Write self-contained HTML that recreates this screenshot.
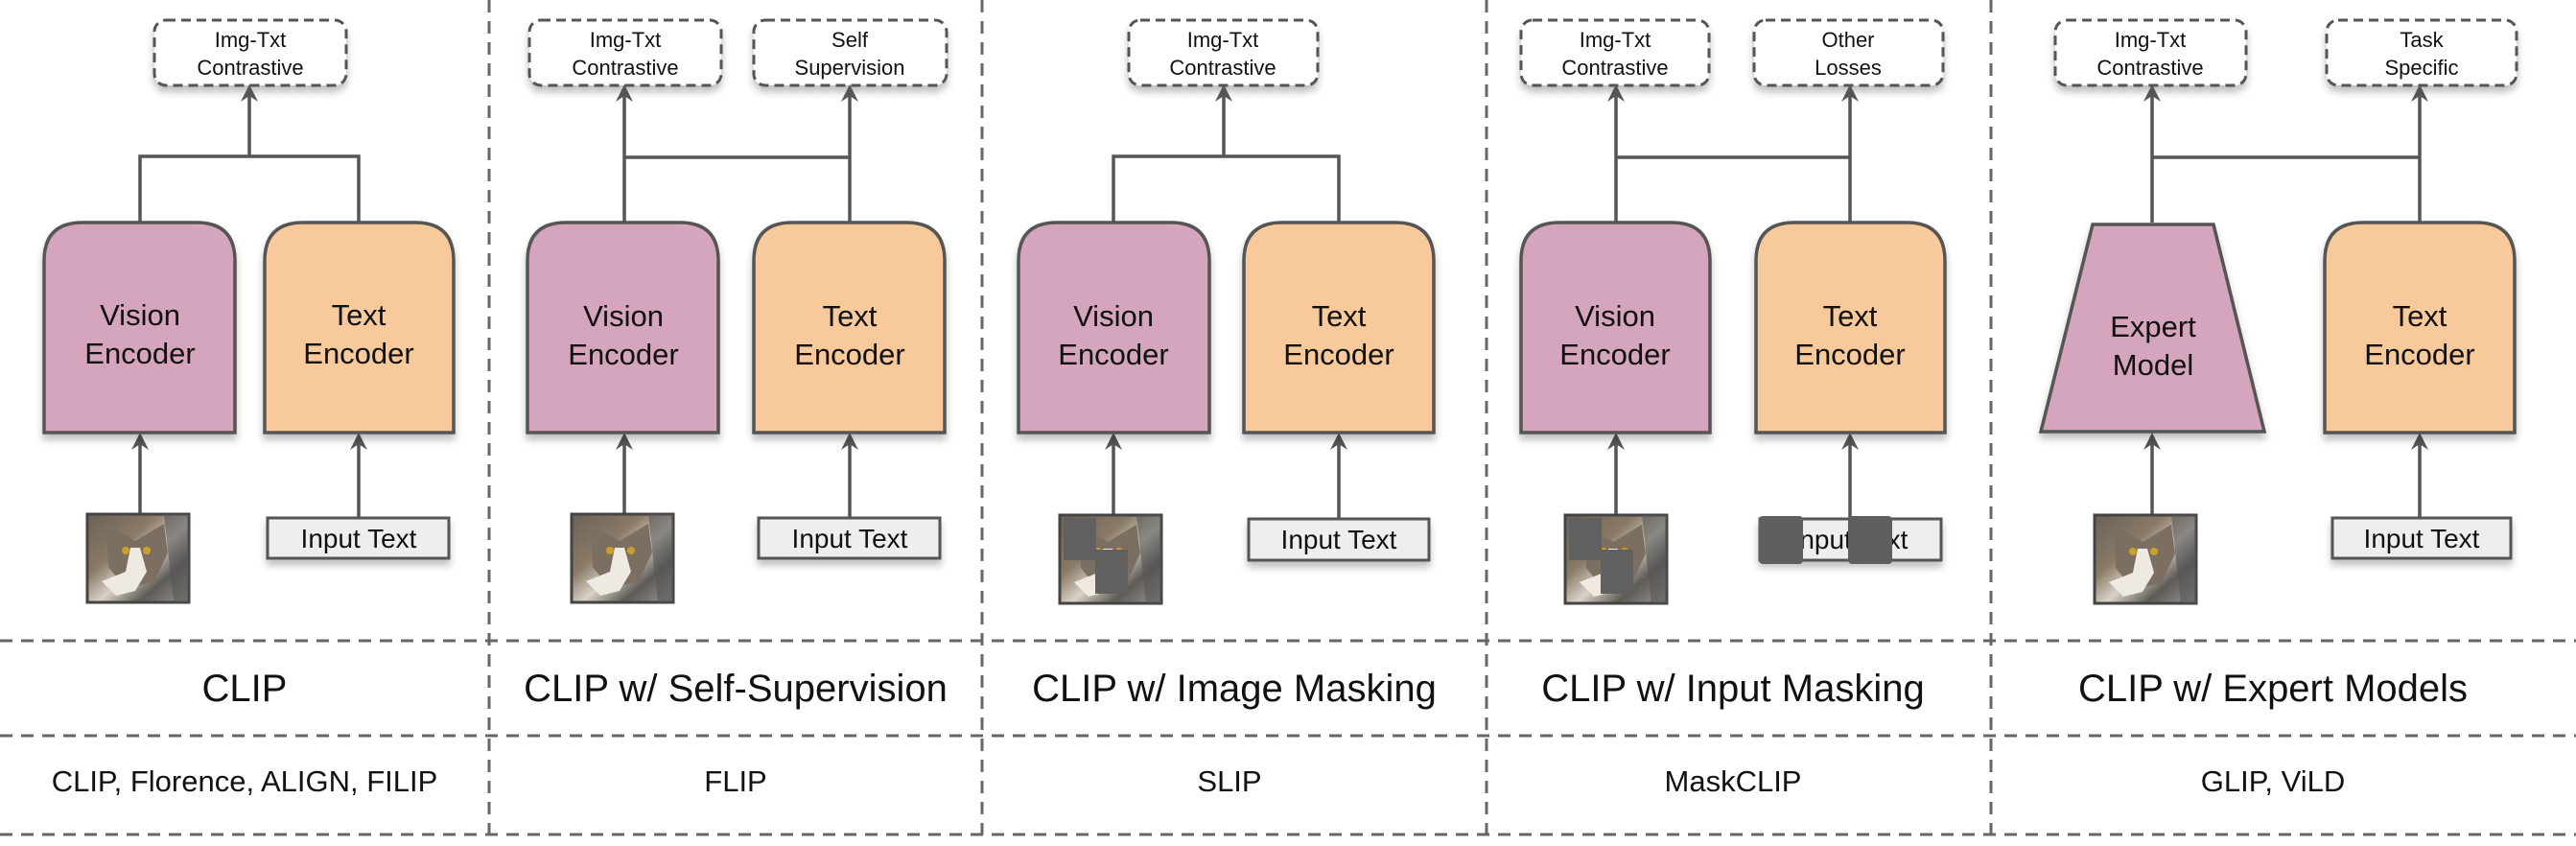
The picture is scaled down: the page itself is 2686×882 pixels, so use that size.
<!DOCTYPE html>
<html><head><meta charset="utf-8"><style>
html,body{margin:0;padding:0;background:#fff;}
svg{display:block;font-family:"Liberation Sans",Arial,sans-serif;}
</style></head><body>
<svg width="2686" height="882" viewBox="0 0 2686 882" xmlns="http://www.w3.org/2000/svg">
<defs>
<filter id="sh" x="-10%" y="-10%" width="130%" height="140%"><feDropShadow dx="0" dy="6" stdDeviation="4" flood-color="#000" flood-opacity="0.25"/></filter>
<linearGradient id="catg" x1="0" y1="0" x2="1" y2="1">
<stop offset="0" stop-color="#6b6158"/><stop offset="0.35" stop-color="#8a7a66"/><stop offset="0.55" stop-color="#d8d2c8"/><stop offset="0.75" stop-color="#5e5a56"/><stop offset="1" stop-color="#9a9a98"/></linearGradient>
<g id="cat">
<rect x="0" y="0" width="106" height="92" fill="url(#catg)" stroke="#444" stroke-width="3"/>
<path d="M20 10 L50 28 L80 10 L84 40 L70 70 L40 78 L22 55 Z" fill="#7c6f62"/>
<path d="M45 35 L55 35 L62 60 L50 80 L30 85 L15 70 L40 60 Z" fill="#eeeae2"/>
<circle cx="40" cy="38" r="4" fill="#c9a02a"/><circle cx="62" cy="38" r="4" fill="#c9a02a"/>
<path d="M80 0 L106 0 L106 92 L90 92 Z" fill="#555" opacity="0.6"/>
</g>
<g id="arrowhead"><path d="M-9 16 L0 -2 L9 16 L0 10 Z" fill="#555"/></g>
</defs>

<g stroke="#666" stroke-width="3" stroke-dasharray="13 9" fill="none">
<line x1="510" y1="0" x2="510" y2="870"/>
<line x1="1024" y1="0" x2="1024" y2="870"/>
<line x1="1550" y1="0" x2="1550" y2="870"/>
<line x1="2076" y1="0" x2="2076" y2="870"/>
<line x1="0" y1="668" x2="2686" y2="668"/>
<line x1="0" y1="767" x2="2686" y2="767"/>
<line x1="0" y1="870" x2="2686" y2="870"/>
</g>

<g fill="#fff" stroke="#555" stroke-width="3" stroke-dasharray="10 6" filter="url(#sh)">
<rect x="161" y="21" width="200" height="68" rx="12"/>
<rect x="552" y="21" width="200" height="68" rx="12"/>
<rect x="786" y="21" width="201" height="68" rx="12"/>
<rect x="1177" y="21" width="197" height="68" rx="12"/>
<rect x="1586" y="21" width="196" height="68" rx="12"/>
<rect x="1829" y="21" width="197" height="68" rx="12"/>
<rect x="2143" y="21" width="199" height="68" rx="12"/>
<rect x="2426" y="21" width="198" height="68" rx="12"/>
</g>
<g font-size="22" text-anchor="middle" fill="#111">
<text x="261" y="49">Img-Txt</text><text x="261" y="78">Contrastive</text>
<text x="652" y="49">Img-Txt</text><text x="652" y="78">Contrastive</text>
<text x="886" y="49">Self</text><text x="886" y="78">Supervision</text>
<text x="1275" y="49">Img-Txt</text><text x="1275" y="78">Contrastive</text>
<text x="1684" y="49">Img-Txt</text><text x="1684" y="78">Contrastive</text>
<text x="1927" y="49">Other</text><text x="1927" y="78">Losses</text>
<text x="2242" y="49">Img-Txt</text><text x="2242" y="78">Contrastive</text>
<text x="2525" y="49">Task</text><text x="2525" y="78">Specific</text>
</g>

<g stroke="#555" stroke-width="3.5" fill="none">
<polyline points="146,232 146,163 374,163 374,232"/><line x1="260" y1="163" x2="260" y2="96"/>
<line x1="651" y1="232" x2="651" y2="96"/><line x1="886" y1="232" x2="886" y2="96"/><line x1="651" y1="164" x2="886" y2="164"/>
<polyline points="1161,232 1161,163 1396,163 1396,232"/><line x1="1276" y1="163" x2="1276" y2="96"/>
<line x1="1685" y1="232" x2="1685" y2="96"/><line x1="1929" y1="232" x2="1929" y2="96"/><line x1="1685" y1="164" x2="1929" y2="164"/>
<line x1="2244" y1="232" x2="2244" y2="96"/><line x1="2523" y1="232" x2="2523" y2="96"/><line x1="2244" y1="164" x2="2523" y2="164"/>
<line x1="146" y1="536" x2="146" y2="460"/><line x1="374" y1="540" x2="374" y2="460"/>
<line x1="651" y1="536" x2="651" y2="460"/><line x1="886" y1="540" x2="886" y2="460"/>
<line x1="1161" y1="536" x2="1161" y2="460"/><line x1="1396" y1="541" x2="1396" y2="460"/>
<line x1="1685" y1="536" x2="1685" y2="460"/><line x1="1929" y1="541" x2="1929" y2="460"/>
<line x1="2244" y1="536" x2="2244" y2="460"/><line x1="2523" y1="540" x2="2523" y2="460"/>
</g>
<g>
<use href="#arrowhead" x="260" y="90"/><use href="#arrowhead" x="651" y="90"/><use href="#arrowhead" x="886" y="90"/>
<use href="#arrowhead" x="1276" y="90"/><use href="#arrowhead" x="1685" y="90"/><use href="#arrowhead" x="1929" y="90"/>
<use href="#arrowhead" x="2244" y="90"/><use href="#arrowhead" x="2523" y="90"/>
<use href="#arrowhead" x="146" y="453"/><use href="#arrowhead" x="374" y="453"/>
<use href="#arrowhead" x="651" y="453"/><use href="#arrowhead" x="886" y="453"/>
<use href="#arrowhead" x="1161" y="453"/><use href="#arrowhead" x="1396" y="453"/>
<use href="#arrowhead" x="1685" y="453"/><use href="#arrowhead" x="1929" y="453"/>
<use href="#arrowhead" x="2244" y="453"/><use href="#arrowhead" x="2523" y="453"/>
</g>

<g stroke="#555" stroke-width="3.5" filter="url(#sh)">
<path d="M46 451 V272 Q46 232 86 232 H205 Q245 232 245 272 V451 Z" fill="#d4a5bd"/>
<path d="M276 451 V272 Q276 232 316 232 H433 Q473 232 473 272 V451 Z" fill="#f8c99b"/>
<path d="M550 451 V272 Q550 232 590 232 H709 Q749 232 749 272 V451 Z" fill="#d4a5bd"/>
<path d="M786 451 V272 Q786 232 826 232 H945 Q985 232 985 272 V451 Z" fill="#f8c99b"/>
<path d="M1062 451 V272 Q1062 232 1102 232 H1221 Q1261 232 1261 272 V451 Z" fill="#d4a5bd"/>
<path d="M1297 451 V272 Q1297 232 1337 232 H1455 Q1495 232 1495 272 V451 Z" fill="#f8c99b"/>
<path d="M1586 451 V272 Q1586 232 1626 232 H1743 Q1783 232 1783 272 V451 Z" fill="#d4a5bd"/>
<path d="M1831 451 V272 Q1831 232 1871 232 H1988 Q2028 232 2028 272 V451 Z" fill="#f8c99b"/>
<path d="M2182 234 H2308 L2361 450 H2128 Z" fill="#d4a5bd"/>
<path d="M2424 451 V272 Q2424 232 2464 232 H2582 Q2622 232 2622 272 V451 Z" fill="#f8c99b"/>
</g>
<g font-size="31" text-anchor="middle" fill="#111">
<text x="146" y="339">Vision</text><text x="146" y="379">Encoder</text>
<text x="374" y="339">Text</text><text x="374" y="379">Encoder</text>
<text x="650" y="340">Vision</text><text x="650" y="380">Encoder</text>
<text x="886" y="340">Text</text><text x="886" y="380">Encoder</text>
<text x="1161" y="340">Vision</text><text x="1161" y="380">Encoder</text>
<text x="1396" y="340">Text</text><text x="1396" y="380">Encoder</text>
<text x="1684" y="340">Vision</text><text x="1684" y="380">Encoder</text>
<text x="1929" y="340">Text</text><text x="1929" y="380">Encoder</text>
<text x="2245" y="351">Expert</text><text x="2245" y="391">Model</text>
<text x="2523" y="340">Text</text><text x="2523" y="380">Encoder</text>
</g>

<use href="#cat" x="91" y="536"/>
<use href="#cat" x="596" y="536"/>
<use href="#cat" x="1105" y="537"/>
<rect x="1109" y="540" width="34" height="44" fill="#606060"/>
<rect x="1142" y="573" width="34" height="46" fill="#606060"/>
<use href="#cat" x="1632" y="537"/>
<rect x="1636" y="540" width="34" height="44" fill="#606060"/>
<rect x="1669" y="573" width="34" height="46" fill="#606060"/>
<use href="#cat" x="2184" y="537"/>

<g fill="#eee" stroke="#555" stroke-width="3" filter="url(#sh)">
<rect x="279" y="540" width="189" height="42"/>
<rect x="791" y="540" width="189" height="42"/>
<rect x="1302" y="541" width="188" height="43"/>
<rect x="1835" y="541" width="189" height="43"/>
<rect x="2432" y="540" width="186" height="42"/>
</g>
<g font-size="28" text-anchor="middle" fill="#111">
<text x="374" y="571">Input Text</text>
<text x="886" y="571">Input Text</text>
<text x="1396" y="572">Input Text</text>
<text x="1929" y="572">Input Text</text>
<text x="2525" y="571">Input Text</text>
</g>
<rect x="1834" y="538" width="46" height="50" rx="4" fill="#5f5f5f"/>
<rect x="1927" y="538" width="46" height="50" rx="4" fill="#5f5f5f"/>

<g font-size="40" text-anchor="middle" fill="#111">
<text x="255" y="731">CLIP</text>
<text x="767" y="731">CLIP w/ Self-Supervision</text>
<text x="1287" y="731">CLIP w/ Image Masking</text>
<text x="1807" y="731">CLIP w/ Input Masking</text>
<text x="2370" y="731">CLIP w/ Expert Models</text>
</g>
<g font-size="31" text-anchor="middle" fill="#111">
<text x="255" y="825">CLIP, Florence, ALIGN, FILIP</text>
<text x="767" y="825">FLIP</text>
<text x="1282" y="825">SLIP</text>
<text x="1807" y="825">MaskCLIP</text>
<text x="2370" y="825">GLIP, ViLD</text>
</g>
</svg>
</body></html>
